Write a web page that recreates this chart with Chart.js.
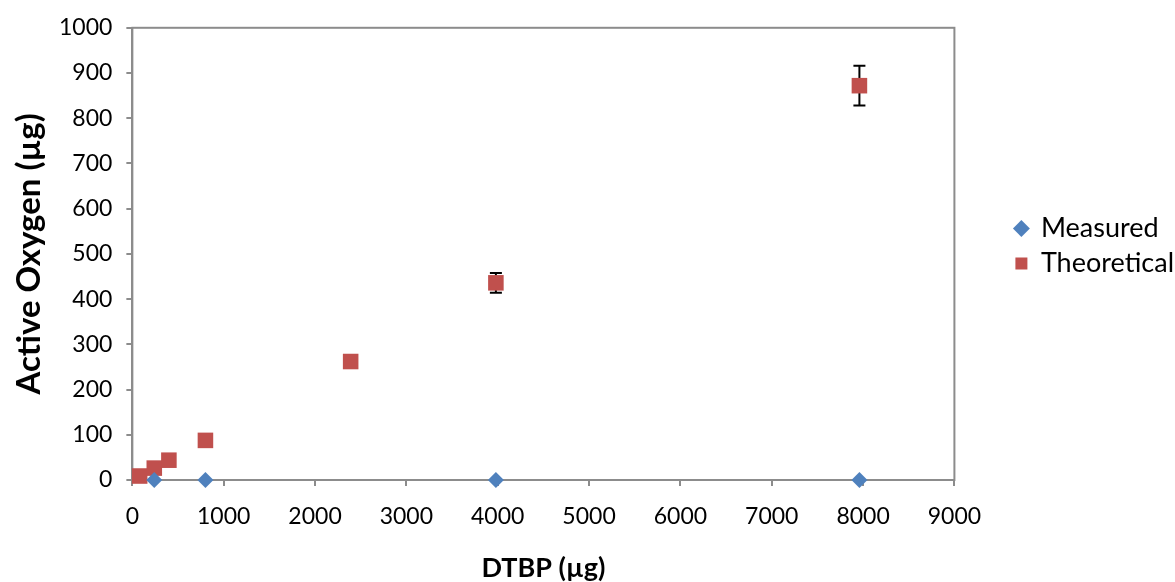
<!DOCTYPE html>
<html>
<head>
<meta charset="utf-8">
<script src="https://cdn.jsdelivr.net/npm/chart.js@4/dist/chart.umd.min.js"></script>
<style>
  html, body { margin: 0; padding: 0; background: #fff; }
  #wrap { width: 1175px; height: 582px; }
</style>
</head>
<body>
<div id="wrap"><canvas id="myChart"></canvas></div>
<script>
// DTBP amount (µg) vs active oxygen (µg)
const measuredX = [240, 800, 3980, 7960];
const measuredY = [0, 0, 0, 0];
const theoreticalX = [80, 240, 400, 800, 2390, 3980, 7960];
const theoreticalY = [8.8, 26.3, 43.8, 87.6, 262, 436, 872];
const theoreticalErr = [0, 0, 0, 0, 0, 22, 44];
const xTicks = [0, 1000, 2000, 3000, 4000, 5000, 6000, 7000, 8000, 9000];
const yTicks = [0, 100, 200, 300, 400, 500, 600, 700, 800, 900, 1000];

const axisGrey = "#8c8c8c";
const fontFamily = "Lato, 'Open Sans', sans-serif";

const toPoints = (xs, ys) => xs.map((x, i) => ({ x: x, y: ys[i] }));

// vertical error bars with caps, drawn under the markers
const errorBars = {
  id: "errorBars",
  beforeDatasetsDraw(chart) {
    const ctx = chart.ctx;
    const xs = chart.scales.x;
    const ys = chart.scales.y;
    chart.data.datasets.forEach((ds) => {
      if (!ds.errors) return;
      ctx.save();
      ctx.strokeStyle = "#000";
      ctx.lineWidth = 2;
      ds.data.forEach((p, i) => {
        const e = ds.errors[i];
        if (!e) return;
        const px = xs.getPixelForValue(p.x);
        const top = ys.getPixelForValue(p.y + e);
        const bot = ys.getPixelForValue(p.y - e);
        ctx.beginPath();
        ctx.moveTo(px, top);
        ctx.lineTo(px, bot);
        ctx.moveTo(px - 6, top);
        ctx.lineTo(px + 6, top);
        ctx.moveTo(px - 6, bot);
        ctx.lineTo(px + 6, bot);
        ctx.stroke();
      });
      ctx.restore();
    });
  },
};

// grey frame around the plot area
const plotFrame = {
  id: "plotFrame",
  beforeDatasetsDraw(chart) {
    const a = chart.chartArea;
    const ctx = chart.ctx;
    ctx.save();
    ctx.strokeStyle = axisGrey;
    ctx.lineWidth = 2;
    ctx.strokeRect(a.left, a.top, a.right - a.left, a.bottom - a.top);
    ctx.restore();
  },
};

// lift the legend a little above the plot's middle
const legendLift = {
  id: "legendLift",
  afterLayout(chart) {
    if (chart.legend) {
      chart.legend.top -= 8;
      chart.legend.bottom -= 8;
    }
  },
};

const canvas = document.getElementById("myChart");
const ctx = canvas.getContext("2d");
const chart = new Chart(ctx, {
  type: "scatter",
  data: {
    datasets: [
      {
        label: "Measured",
        data: toPoints(measuredX, measuredY),
        pointStyle: "rectRot",
        pointRadius: 8,
        pointHoverRadius: 8,
        backgroundColor: "#4f81bd",
        borderColor: "#4f81bd",
        borderWidth: 0,
        clip: false,
      },
      {
        label: "Theoretical",
        data: toPoints(theoreticalX, theoreticalY),
        errors: theoreticalErr,
        pointStyle: "rect",
        pointRadius: 11,
        pointHoverRadius: 11,
        backgroundColor: "#c0504d",
        borderColor: "#c0504d",
        borderWidth: 0,
        clip: false,
      },
    ],
  },
  options: {
    responsive: true,
    maintainAspectRatio: false,
    animation: false,
    layout: { padding: { top: 3, left: 13, right: -9, bottom: 0 } },
    plugins: {
      tooltip: { enabled: false },
      legend: {
        position: "right",
        fullSize: false,
        labels: {
          usePointStyle: true,
          boxWidth: 12,
          boxHeight: 12,
          padding: 8,
          color: "#000",
          font: { family: fontFamily, size: 27 },
        },
      },
    },
    scales: {
      x: {
        type: "linear",
        min: 0,
        max: 9000,
        afterBuildTicks: (axis) => { axis.ticks = xTicks.map((v) => ({ value: v })); },
        grid: { drawOnChartArea: false, drawTicks: true, tickLength: 6, color: axisGrey, lineWidth: 2 },
        border: { color: axisGrey, width: 2 },
        ticks: { color: "#000", padding: 19, maxRotation: 0, callback: (v) => String(v), font: { family: fontFamily, size: 23, lineHeight: 1 } },
        title: {
          display: true,
          text: "DTBP (µg)",
          color: "#000",
          padding: { top: 8, bottom: 0 },
          font: { family: fontFamily, size: 27, weight: "bold", lineHeight: 1 },
        },
      },
      y: {
        type: "linear",
        min: 0,
        max: 1000,
        afterBuildTicks: (axis) => { axis.ticks = yTicks.map((v) => ({ value: v })); },
        grid: { drawOnChartArea: false, drawTicks: true, tickLength: 6, color: axisGrey, lineWidth: 2 },
        border: { color: axisGrey, width: 2 },
        ticks: { color: "#000", padding: 14, callback: (v) => String(v), font: { family: fontFamily, size: 23 } },
        title: {
          display: true,
          text: "Active Oxygen (µg)",
          color: "#000",
          padding: { top: 0, bottom: -1 },
          font: { family: fontFamily, size: 33, weight: "bold", lineHeight: 1 },
        },
      },
      // empty spacer between the plot and the legend
      gap: {
        type: "linear",
        position: "right",
        display: true,
        grid: { display: false },
        border: { display: false },
        ticks: { display: false },
        afterFit: (axis) => { axis.width = 53; },
      },
    },
  },
  plugins: [plotFrame, errorBars, legendLift],
});
</script>
</body>
</html>
